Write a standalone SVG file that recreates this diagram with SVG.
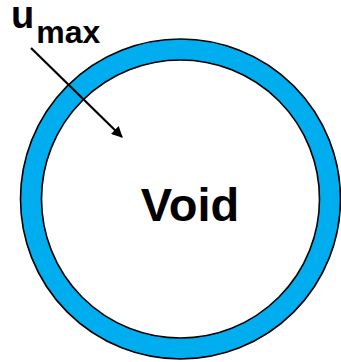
<svg xmlns="http://www.w3.org/2000/svg" width="341" height="362" viewBox="0 0 341 362">
<style>
.lbl{font-family:"Liberation Sans",Arial,sans-serif;font-weight:bold;fill:#000}
</style>
<defs>
<marker id="ah" markerWidth="11" markerHeight="11" refX="10" refY="5.5" orient="auto" markerUnits="userSpaceOnUse" viewBox="0 0 11 11">
<path d="M0,0 L11,5.5 L0,11 z" fill="#000"/>
</marker>
</defs>
<rect width="341" height="362" fill="#fff"/>
<g id="ring">
<circle cx="180.5" cy="199" r="149.5" fill="none" stroke="#00AEEF" stroke-width="21"/>
<circle cx="180.5" cy="199" r="160" fill="none" stroke="#000" stroke-width="1.6"/>
<circle cx="180.5" cy="199" r="139" fill="#fff" stroke="#000" stroke-width="1.6"/>
</g>
<g id="void">
<text class="lbl" x="190" y="220.5" font-size="47" text-anchor="middle">Void</text>
</g>
<g id="umax">
<text class="lbl" x="11" y="27.5" font-size="38">u<tspan font-size="32" dx="2" dy="15.5">max</tspan></text>
</g>
<g id="connectors">
<line x1="31" y1="48" x2="122" y2="137" stroke="#000" stroke-width="2.2" marker-end="url(#ah)"/>
</g>
</svg>
